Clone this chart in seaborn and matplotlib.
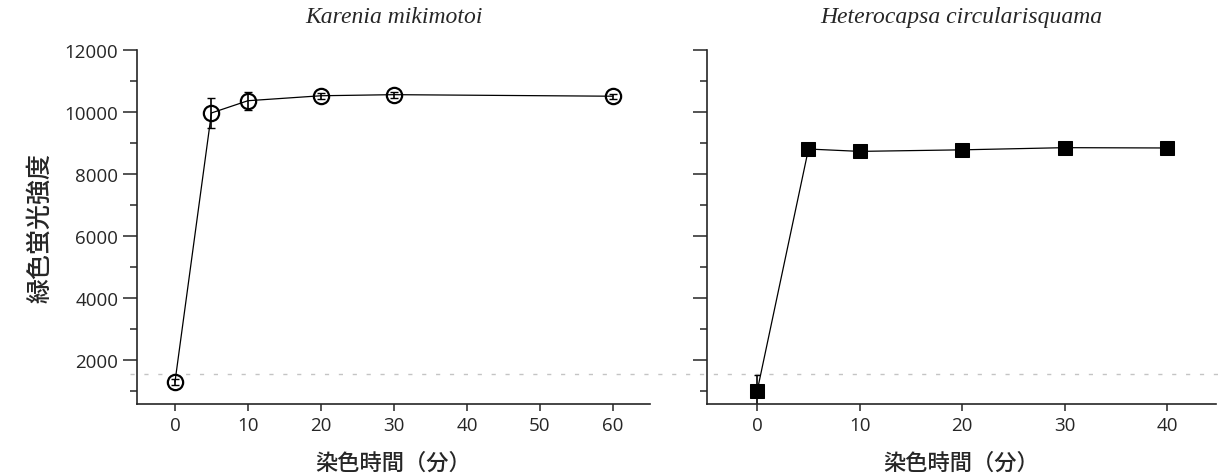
import numpy as np
import pandas as pd
import matplotlib
matplotlib.use("Agg")
import matplotlib.pyplot as plt
from matplotlib.lines import Line2D
from matplotlib.ticker import MultipleLocator
import seaborn as sns

# Karenia mikimotoi
km_time = [0, 5, 10, 20, 30, 60]
km_value = [1290, 9970, 10365, 10525, 10560, 10510]
km_err = [100, 480, 290, 100, 100, 80]

# Heterocapsa circularisquama
hc_time = [0, 5, 10, 20, 30, 40]
hc_value = [1010, 8806, 8730, 8780, 8850, 8840]
hc_err = [500, 0, 0, 0, 0, 0]

titles = ["Karenia mikimotoi", "Heterocapsa circularisquama"]
ylabel = "緑色蛍光強度"
xlabel = "染色時間（分）"

sns.set_style("ticks")
plt.rcParams['font.family'] = ['Open Sans', 'Noto Sans CJK JP', 'DejaVu Sans']
cjk = ['Noto Sans CJK JP', 'DejaVu Sans']

fig = plt.figure(figsize=(12.18, 4.77), dpi=100)
ax1 = fig.add_axes([0.1125, 0.151, 0.4212, 0.742])
ax2 = fig.add_axes([0.5805, 0.151, 0.418, 0.742])

km = pd.DataFrame({'time': km_time, 'value': km_value, 'err': km_err})
hc = pd.DataFrame({'time': hc_time, 'value': hc_value, 'err': hc_err})

sns.lineplot(data=km, x='time', y='value', ax=ax1, color='black', lw=0.9,
             marker='o', markersize=11, markerfacecolor='none',
             markeredgecolor='black', markeredgewidth=1.6, zorder=3)
ax1.errorbar(km['time'], km['value'], yerr=km['err'], fmt='none',
             ecolor='black', elinewidth=1.2, capsize=3, zorder=2)

sns.lineplot(data=hc, x='time', y='value', ax=ax2, color='black', lw=0.9,
             marker='s', markersize=10, markerfacecolor='black',
             markeredgecolor='black', zorder=3)
ax2.errorbar(hc['time'], hc['value'], yerr=hc['err'], fmt='none',
             ecolor='black', elinewidth=1.2, capsize=2, zorder=2)

ax1.set_xlim(-5.2, 65.1)
ax2.set_xlim(-4.9, 44.8)

for ax, title in zip([ax1, ax2], titles):
    ax.patch.set_visible(False)
    ax.set_ylim(580, 12000)
    ax.yaxis.set_major_locator(MultipleLocator(2000))
    ax.yaxis.set_minor_locator(MultipleLocator(1000))
    ax.xaxis.set_major_locator(MultipleLocator(10))
    ax.set_title(title, family='Liberation Serif', style='italic',
                 fontsize=17, pad=20)
    ax.set_xlabel(xlabel, family=cjk, fontsize=16, weight='medium', labelpad=12)
    ax.set_ylabel('')
    for side in ['top', 'right']:
        ax.spines[side].set_visible(False)
    for side in ['left', 'bottom']:
        ax.spines[side].set_linewidth(1.2)
    ax.tick_params(axis='y', which='major', length=10, width=1.1, labelsize=13.5)
    ax.tick_params(axis='y', which='minor', length=5, width=1.1)
    ax.tick_params(axis='x', which='major', length=5, width=1.1, labelsize=13.5)

ax2.tick_params(axis='y', labelleft=False)
ax1.set_ylabel(ylabel, family=cjk, fontsize=18, weight='medium', labelpad=8)

# faint dashed reference line spanning both panels
fig.add_artist(Line2D([0.107, 1.0], [1 - 375 / 477] * 2, transform=fig.transFigure,
                      color='#c4c4c4', lw=1, ls=(0, (3, 7)), zorder=0))

fig.savefig('out.png', dpi=100)
